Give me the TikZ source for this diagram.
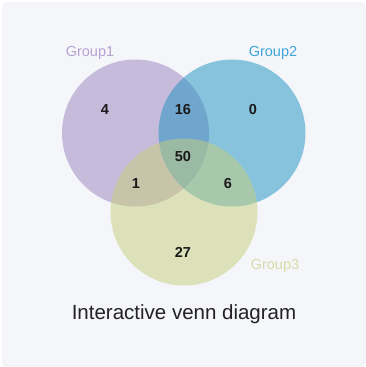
\documentclass[tikz,border=0pt]{standalone}
\usepackage{fontspec}
\setmainfont{Liberation Sans}
\definecolor{panelbg}{HTML}{F5F6FA}
\definecolor{panelline}{HTML}{ECEEF2}
\definecolor{cone}{HTML}{9B82C0}
\definecolor{ctwo}{HTML}{1B92C0}
\definecolor{cthree}{HTML}{C7CE7A}
\definecolor{tone}{HTML}{B6A2D3}
\definecolor{ttwo}{HTML}{3FA6D7}
\definecolor{tthree}{HTML}{D6DCA6}
\definecolor{numcol}{HTML}{1A1A1A}
\definecolor{titlecol}{HTML}{222222}
\begin{document}
\begin{tikzpicture}[x=1pt,y=-1pt,
  setc/.style={fill opacity=0.5, draw=none},
  grouplabel/.style={font=\fontsize{14.5}{16}\selectfont, inner sep=0pt},
  count/.style={font=\fontsize{14.5}{16}\selectfont\bfseries, text=numcol, inner sep=0pt},
  titletext/.style={font=\fontsize{20.5}{24}\selectfont, text=titlecol, inner sep=0pt}]
\useasboundingbox (0,0) rectangle (366,367);
\fill[white] (0,0) rectangle (366,367);
\draw[panelline, fill=panelbg, line width=0.6pt, rounded corners=3pt] (3,3) rectangle (365,366);
% circles
\fill[cone, setc] (135.5,133) circle (73.5);
\fill[ctwo, setc] (232,133) circle (73.5);
\fill[cthree, setc] (184,212) circle (73.5);
% labels
\node[grouplabel, text=tone] (g1) at (90,52.5) {Group1};
\node[grouplabel, text=ttwo] (g2) at (273,52.5) {Group2};
\node[grouplabel, text=tthree] (g3) at (275,265.5) {Group3};
% counts
\node[count] (n4) at (105,110) {4};
\node[count] (n16) at (183,110) {16};
\node[count] (n0) at (253,110) {0};
\node[count] (n50) at (183,157) {50};
\node[count] (n1) at (136,184) {1};
\node[count] (n6) at (228,184) {6};
\node[count] (n27) at (183,252) {27};
% title
\node[titletext] (title) at (184,314) {Interactive venn diagram};
\end{tikzpicture}
\end{document}
